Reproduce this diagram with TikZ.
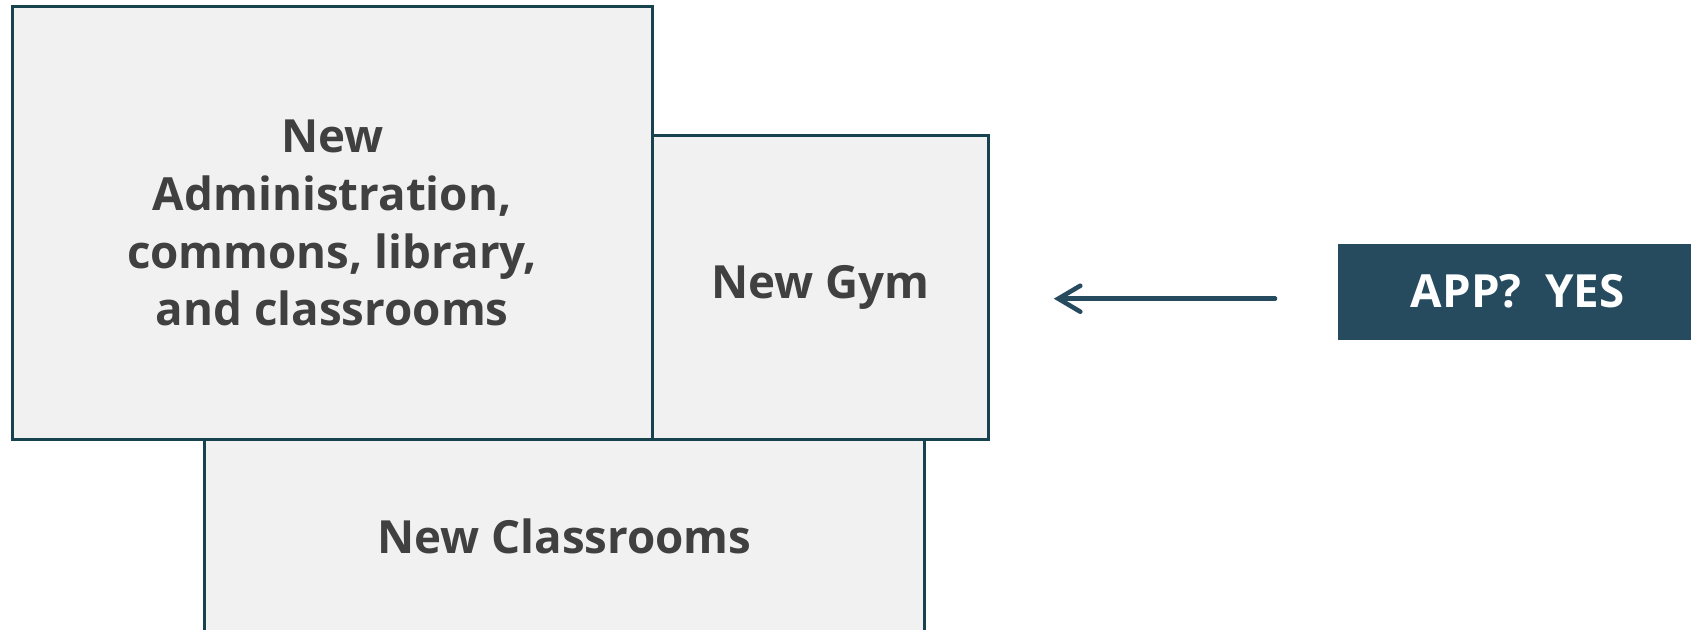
\documentclass[tikz,border=0pt]{standalone}
\usepackage{fontspec}
\setmainfont{Open Sans}
\usetikzlibrary{arrows.meta,calc}
\definecolor{boxline}{HTML}{17434E}
\definecolor{boxfill}{HTML}{F1F1F1}
\definecolor{boxtext}{HTML}{404040}
\definecolor{appblue}{HTML}{264B5F}
\tikzset{
	room/.style={draw=boxline, fill=boxfill, line width=0.8pt, anchor=north west,
		inner sep=0pt, align=center, text=boxtext,
		font=\fontsize{13}{16.4}\selectfont\bfseries},
	appbox/.style={fill=appblue, text=white, anchor=north west, inner sep=0pt,
		font=\fontsize{13}{16.4}\selectfont\bfseries},
	arrowline/.style={draw=appblue, line width=1.3pt, line cap=round,
		-{Straight Barb[length=2.2mm,width=2.6mm,line cap=round]}},
}
\begin{document}
\begin{tikzpicture}[x=0.1mm,y=-0.1mm]
		\useasboundingbox (0,0) rectangle (1691,629);
		% buildings
		\node[room, minimum width=64mm, minimum height=43.3mm] (admin) at (10.8,5.4)
			{New\\Administration,\\commons, library,\\and classrooms};
		\node[room, minimum width=33.6mm, minimum height=30.4mm] (gym) at (651,134) {New Gym};
		\node[room, minimum width=72mm, minimum height=19.3mm] (class) at (203,438) {New Classrooms};
		% label
		\node[appbox, minimum width=36mm, minimum height=9.6mm] (app) at (1337,243) {APP?\ \ YES};
		\draw[arrowline, shorten <=6.2mm, shorten >=6.4mm]
			([yshift=-0.7mm]app.west) -- ([yshift=-0.7mm]app.west -| gym.east);
	\end{tikzpicture}
\end{document}
